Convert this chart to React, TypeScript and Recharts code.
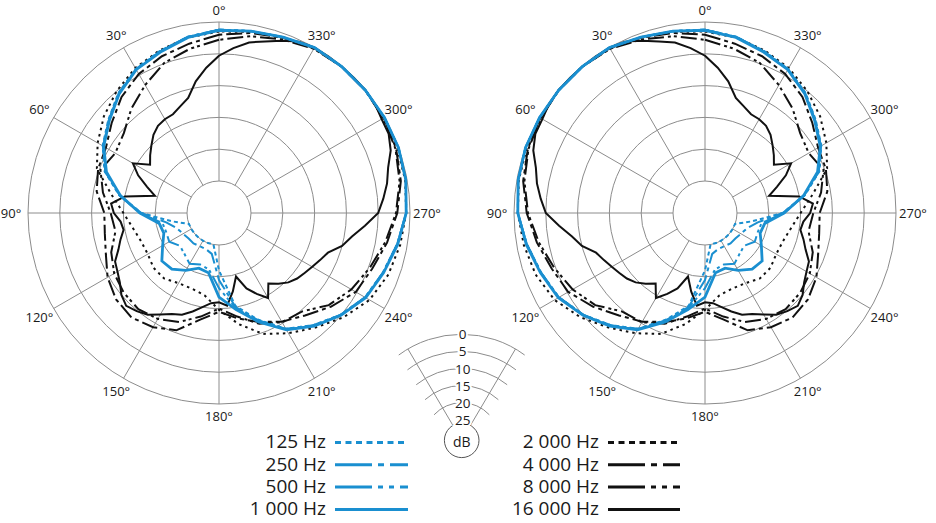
import React from "react";
import { PolarAngleAxis, PolarGrid, PolarRadiusAxis, Radar, RadarChart } from "recharts";

// angles in degrees, counter-clockwise from the front (0°)
const angles5 = [
  0, 5, 10, 15, 20, 25, 30, 35, 40, 45, 50, 55, 60, 65, 70, 75, 80, 85, 90, 95, 100, 105, 110, 115,
  120, 125, 130, 135, 140, 145, 150, 155, 160, 165, 170, 175, 180, 185, 190, 195, 200, 205, 210, 215,
  220, 225, 230, 235, 240, 245, 250, 255, 260, 265, 270, 275, 280, 285, 290, 295, 300, 305, 310, 315,
  320, 325, 330, 335, 340, 345, 350, 355,
];
const angles10 = [
  0, 10, 20, 30, 40, 50, 60, 70, 80, 90, 100, 110, 120, 130, 140, 150, 160, 170, 180, 190, 200, 210,
  220, 230, 240, 250, 260, 270, 280, 290, 300, 310, 320, 330, 340, 350,
];
const angleTicks = [0, 30, 60, 90, 120, 150, 180, 210, 240, 270, 300, 330];
const dbTicks = [-25, -20, -15, -10, -5, 0];
const dbScaleLabels = [0, 5, 10, 15, 20, 25];

// level in dB (the right one is its mirror image)
const hz125 = [-1.2, -1.9, -2.9, -3.9, -5.4, -7.3, -8.9, -10.9, -14.1, -17.8, -22.5, -25, -25, -25, -25, -25, -25, -25, -21.0, -15.2, -12.2, -9.0, -7.0, -5.1, -3.5, -2.6, -1.6, -0.6, -0.2, 0, 0, 0, 0, 0, -0.6, -1.0];
const hz250 = [-1.2, -1.9, -3.0, -3.9, -5.5, -7.4, -9.0, -11.0, -14.2, -17.8, -21.6, -23.0, -23.5, -23.8, -23.8, -24.0, -24.0, -23.5, -19.5, -15.0, -12.1, -9.0, -7.0, -5.1, -3.5, -2.6, -1.6, -0.6, -0.2, 0, 0, 0, 0, 0, -0.6, -1.0];
const hz500 = [-1.2, -1.9, -3.0, -4.0, -5.5, -7.4, -9.0, -11.0, -14.2, -17.6, -21.0, -21.2, -21.0, -22.0, -21.6, -20.8, -21.4, -21.0, -18.2, -14.8, -12.0, -8.9, -6.9, -5.1, -3.5, -2.6, -1.6, -0.6, -0.2, 0, 0, 0, 0, 0, -0.6, -1.0];
const hz1000 = [-1.3, -2.0, -3.1, -4.0, -5.6, -7.5, -9.1, -11.2, -14.3, -17.6, -20.5, -20.8, -19.8, -18.3, -18.5, -19.6, -20.8, -20.5, -16.8, -14.6, -11.8, -8.8, -6.8, -5.0, -3.4, -2.5, -1.5, -0.6, -0.2, 0, 0, 0, 0, 0, -0.6, -1.0];
const hz2000 = [-1.5, -2.0, -2.8, -3.7, -5.0, -6.4, -8.0, -9.6, -12.8, -15.0, -16.3, -17.0, -17.1, -16.6, -16.6, -17.3, -17.4, -16.9, -14.8, -12.3, -9.8, -8.2, -6.5, -4.5, -2.7, -1.7, -1.1, -0.6, -0.3, -0.2, -0.1, 0, 0, -0.2, -0.7, -1.1];
const hz4000 = [-2.0, -3.0, -3.8, -4.8, -6.2, -8.0, -9.5, -9.8, -10.5, -12.0, -11.8, -11.1, -9.8, -8.9, -8.6, -9.3, -10.4, -13.0, -14.5, -13.2, -11.8, -10.3, -9.0, -7.1, -5.2, -4.4, -3.2, -2.0, -1.0, -0.4, -0.1, 0, 0, -0.1, -0.7, -1.3];
const hz8000 = [-2.8, -3.8, -4.9, -6.8, -8.6, -10.5, -11.2, -10.2, -11.5, -13.0, -13.5, -12.0, -11.0, -10.5, -10.3, -10.8, -11.8, -13.5, -15.0, -13.5, -11.5, -10.2, -9.8, -7.5, -6.0, -4.8, -3.5, -2.2, -1.2, -0.5, -0.2, 0, 0, -0.2, -1.0, -1.8];
// 16 kHz read every 5°
const hz16000 = [
  -5.3, -7.1, -9.0, -11.3, -12.2, -12.9, -13.0, -13.3, -14.0, -15.0, -15.9, -16.8, -14.4, -16.0, -18.0, -19.6, -15.0, -13.0,
  -13.5, -14.5, -14.8, -14.0, -13.2, -12.0, -11.6, -11.0, -10.0, -9.4, -9.9, -10.5, -11.6, -12.5, -13.0, -14.0, -15.0, -15.8,
  -16.0, -15.4, -17.5, -19.7, -17.4, -16.0, -14.6, -16.5, -15.5, -14.6, -14.0, -13.6, -13.1, -12.5, -11.8, -10.0, -8.8, -7.0,
  -5.0, -4.1, -3.2, -2.5, -1.3, -0.6, -0.5, -0.1, 0, 0, 0, 0, 0, -0.3, -1.2, -2.1, -2.8, -4.0,
];

const BLUE = "#1a8fd0";
const BLACK = "#111111";
const FONT = "'Open Sans', 'Noto Sans', sans-serif";

type Series = {
  key: string;
  label: string;
  color: string;
  values: number[];
  dash?: string;
  legendDash?: string;
  width: number;
};

const s125: Series = { key: "hz125", label: "125 Hz", color: BLUE, values: hz125, dash: "4 3", legendDash: "6 4.5", width: 2 };
const s250: Series = { key: "hz250", label: "250 Hz", color: BLUE, values: hz250, dash: "16 4 4 4", legendDash: "37 6 6 6", width: 2 };
const s500: Series = { key: "hz500", label: "500 Hz", color: BLUE, values: hz500, dash: "16 4 3 3 3 4", legendDash: "37 6 5 6 5 6", width: 2 };
const s1000: Series = { key: "hz1000", label: "1 000 Hz", color: BLUE, values: hz1000, width: 2.8 };
const s2000: Series = { key: "hz2000", label: "2 000 Hz", color: BLACK, values: hz2000, dash: "2.5 4", legendDash: "6 4.5", width: 2 };
const s4000: Series = { key: "hz4000", label: "4 000 Hz", color: BLACK, values: hz4000, dash: "16 4 4 4", legendDash: "37 6 6 6", width: 2 };
const s8000: Series = { key: "hz8000", label: "8 000 Hz", color: BLACK, values: hz8000, dash: "16 4 3 3 3 4", legendDash: "37 6 5 6 5 6", width: 2 };
const s16000: Series = { key: "hz16000", label: "16 000 Hz", color: BLACK, values: hz16000, width: 2 };

const blueSeries = [s125, s250, s500, s1000];
const blackSeries = [s2000, s4000, s8000, s16000];
// series read every 10°, drawn over the 16 kHz curve
const coarseSeries = [s2000, s4000, s8000, s125, s250, s500, s1000];

const buildRows = (angles: number[], series: Series[], mirror: boolean) =>
  angles.map((a, i) => {
    const row: Record<string, number> = { angle: mirror ? (360 - a) % 360 : a };
    series.forEach((s) => {
      row[s.key] = s.values[i];
    });
    return row;
  });

const AngleTick = (props: any) => {
  const { x, y, payload } = props;
  const rad = (payload.coordinate * Math.PI) / 180;
  const extra = 4 + 5 * Math.abs(Math.cos(rad));
  return (
    <text
      x={x + Math.cos(rad) * extra}
      y={y - Math.sin(rad) * extra}
      textAnchor="middle"
      dominantBaseline="central"
      fontSize={13}
      fontFamily={FONT}
      fill="#1a1a1a"
    >
      {payload.value}°
    </text>
  );
};

const chartGeometry = {
  width: 936,
  height: 523,
  cy: 213,
  innerRadius: 32,
  outerRadius: 191,
  startAngle: 90,
  endAngle: 450,
  margin: { top: 0, right: 0, bottom: 0, left: 0 },
  style: { position: "absolute" as const, left: 0, top: 0 },
};

const SeriesRadar = (s: Series) => (
  <Radar
    key={s.key}
    dataKey={s.key}
    stroke={s.color}
    strokeWidth={s.width}
    strokeDasharray={s.dash}
    fill="none"
    fillOpacity={0}
    dot={false}
    isAnimationActive={false}
  />
);

const PolarPlot = ({ cx, mirror }: { cx: number; mirror: boolean }) => (
  <>
    <RadarChart {...chartGeometry} cx={cx} data={buildRows(angles5, [s16000], mirror)}>
      <PolarGrid gridType="circle" stroke="#8c8c8c" strokeWidth={1} />
      <PolarAngleAxis
        dataKey="angle"
        type="number"
        domain={[0, 360]}
        ticks={angleTicks}
        tick={AngleTick}
        tickLine={false}
        axisLine={false}
      />
      <PolarRadiusAxis type="number" domain={[-25, 0]} ticks={dbTicks} tick={false} axisLine={false} />
      {SeriesRadar(s16000)}
    </RadarChart>
    <RadarChart {...chartGeometry} cx={cx} data={buildRows(angles10, coarseSeries, mirror)}>
      <PolarAngleAxis dataKey="angle" type="number" domain={[0, 360]} ticks={angleTicks} tick={false} tickLine={false} axisLine={false} />
      <PolarRadiusAxis type="number" domain={[-25, 0]} ticks={dbTicks} tick={false} axisLine={false} />
      {coarseSeries.map(SeriesRadar)}
    </RadarChart>
  </>
);

// small dB key between the two diagrams
const DbKey = () => {
  const kx = 461.7;
  const ky = 440.3;
  const r0 = 106;
  const step = 17.1;
  const spread = 30.5;
  const pt = (r: number, deg: number) => {
    const t = (deg * Math.PI) / 180;
    return [kx + r * Math.sin(t), ky - r * Math.cos(t)];
  };
  return (
    <g>
      {dbScaleLabels.slice(0, 5).map((v, i) => {
        const r = r0 - i * step;
        const half = spread + (11 / r) * (180 / Math.PI);
        const [x1, y1] = pt(r, -half);
        const [x2, y2] = pt(r, half);
        return (
          <path key={v} d={`M${x1},${y1} A${r},${r} 0 0 1 ${x2},${y2}`} fill="none" stroke="#8c8c8c" strokeWidth={1} />
        );
      })}
      {[-spread, spread].map((d) => {
        const [x1, y1] = pt(17.3, d);
        const [x2, y2] = pt(r0, d);
        return <line key={d} x1={x1} y1={y1} x2={x2} y2={y2} stroke="#8c8c8c" strokeWidth={1} />;
      })}
      <circle cx={kx} cy={ky} r={17.3} fill="#fff" stroke="#555" strokeWidth={1} />
      {dbScaleLabels.map((v, i) => (
        <text
          key={v}
          x={kx + 1}
          y={ky - (r0 - i * step)}
          textAnchor="middle"
          dominantBaseline="central"
          fontSize={13.5}
          fontFamily={FONT}
          fill="#1a1a1a"
          stroke="#fff"
          strokeWidth={4}
          paintOrder="stroke"
        >
          {v}
        </text>
      ))}
      <text x={kx} y={ky + 1} textAnchor="middle" dominantBaseline="central" fontSize={14} fontFamily={FONT} fill="#1a1a1a">
        dB
      </text>
    </g>
  );
};

const rowY = [441.7, 464, 486.3, 508.6];

const LegendColumn = ({ items, textRight, lineX1, lineX2 }: { items: Series[]; textRight: number; lineX1: number; lineX2: number }) => (
  <g>
    {items.map((s, i) => (
      <g key={s.key}>
        <text x={textRight} y={rowY[i] + 6.7} textAnchor="end" fontSize={19} fontFamily={FONT} fill="#1a1a1a">
          {s.label}
        </text>
        <line
          x1={lineX1}
          y1={rowY[i] + 0.8}
          x2={lineX2}
          y2={rowY[i] + 0.8}
          stroke={s.color}
          strokeWidth={3}
          strokeDasharray={s.legendDash}
        />
      </g>
    ))}
  </g>
);

export default function App() {
  return (
    <div style={{ position: "absolute", left: 0, top: 0, width: 936, height: 523, background: "#fff" }}>
      <PolarPlot cx={219} mirror={false} />
      <PolarPlot cx={705} mirror={true} />
      <svg width={936} height={523} style={{ position: "absolute", left: 0, top: 0, pointerEvents: "none" }}>
        <DbKey />
        <LegendColumn items={blueSeries} textRight={326} lineX1={335} lineX2={408} />
        <LegendColumn items={blackSeries} textRight={599} lineX1={608} lineX2={680} />
      </svg>
    </div>
  );
}
